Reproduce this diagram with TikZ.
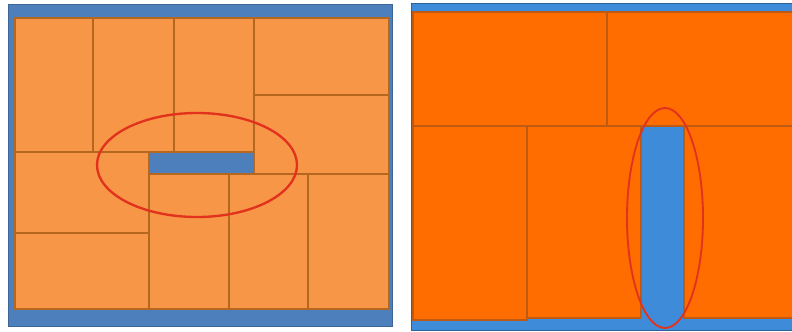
\documentclass[tikz,border=0pt]{standalone}
\usepackage{xcolor}
\usepackage{tikz}
\usetikzlibrary{calc}

\definecolor{paleOrange}{HTML}{F79646}
\definecolor{paleEdge}{HTML}{B5661F}
\definecolor{paleBlue}{HTML}{4C7FBC}
\definecolor{hotOrange}{HTML}{FF6C00}
\definecolor{hotEdge}{HTML}{BF5A12}
\definecolor{hotBlue}{HTML}{3E8BDA}
\definecolor{ringRed}{HTML}{E2321E}

\begin{document}
\begin{tikzpicture}[
  x=0.03cm, y=-0.03cm,
  tileL/.style = {fill=paleOrange, draw=paleEdge, line width=1.3pt},
  tileR/.style = {fill=hotOrange, draw=hotEdge, line width=1.5pt},
  gapL/.style  = {fill=paleBlue},
  gapR/.style  = {fill=hotBlue},
  ring/.style  = {draw=ringRed, line width=2pt},
]
\useasboundingbox (0,0) rectangle (792,331);

% ── Left panel: frame ─────────────────────────────────────────────────────────
\draw[fill=paleBlue, draw=paleBlue!80!black, line width=0.6pt] (8,4) rectangle (392,326);

% ── Left panel: tiles ─────────────────────────────────────────────────────────
\draw[tileL] (15,18)   rectangle (93,152);
\draw[tileL] (93,18)   rectangle (174,152);
\draw[tileL] (174,18)  rectangle (254,152);
\draw[tileL] (254,18)  rectangle (389,95);
\draw[tileL] (254,95)  rectangle (389,174);
\draw[tileL] (15,152)  rectangle (149,233);
\draw[tileL] (15,233)  rectangle (149,309);
\draw[tileL] (149,174) rectangle (229,309);
\draw[tileL] (229,174) rectangle (308,309);
\draw[tileL] (308,174) rectangle (389,309);

% ── Left panel: horizontal gap ────────────────────────────────────────────────
\fill[gapL] (149.8,153.2) rectangle (253.2,173.2);
\draw[ring] (197,165) ellipse [x radius=100, y radius=52];

% ── Right panel: frame ────────────────────────────────────────────────────────
\fill[hotBlue] (411,3) rectangle (792,330);
\draw[hotBlue!70!black, line width=0.6pt] (792,3) -- (411,3) -- (411,330) -- (792,330);

% ── Right panel: tiles ────────────────────────────────────────────────────────
\draw[tileR] (413,12)  rectangle (607,126);
\draw[tileR] (607,12)  rectangle (800,126);
\draw[tileR] (413,126) rectangle (527,320);
\draw[tileR] (527,126) rectangle (641,318);
\draw[tileR] (684,126) rectangle (800,318);

% ── Right panel: vertical gap ─────────────────────────────────────────────────
\fill[gapR] (641.8,126.8) rectangle (683.2,329);
\draw[ring, line width=1.6pt] (665,218) ellipse [x radius=38, y radius=110];

\end{tikzpicture}
\end{document}
